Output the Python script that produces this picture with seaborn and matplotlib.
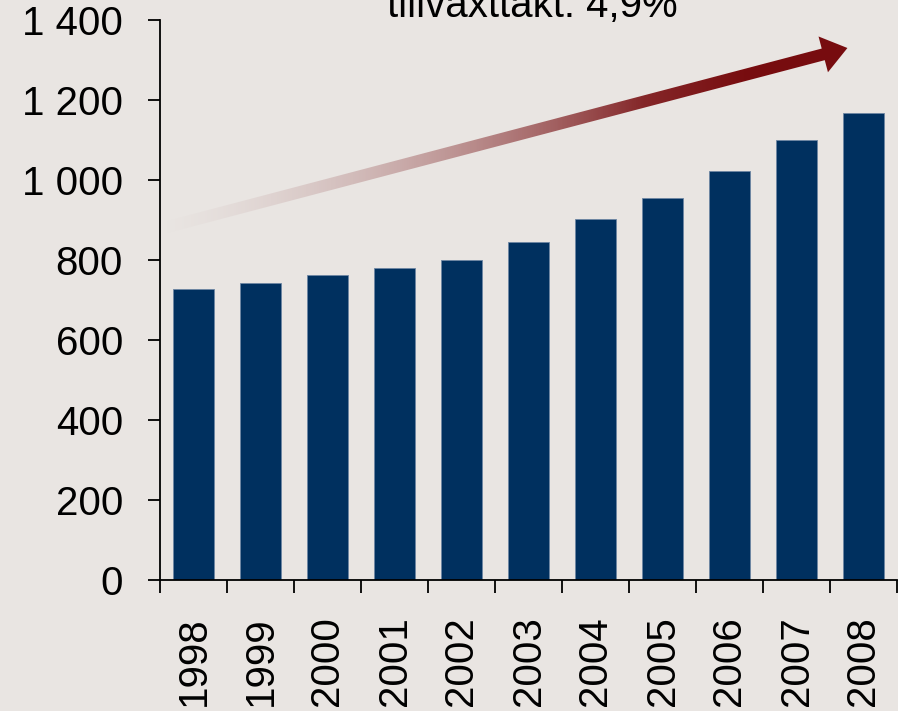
import numpy as np
import pandas as pd
import seaborn as sns
import matplotlib.pyplot as plt
from matplotlib.patches import Polygon

# data
years = ["1998", "1999", "2000", "2001", "2002", "2003", "2004", "2005", "2006", "2007", "2008"]
values = [727, 743, 763, 779, 799, 844, 903, 954, 1023, 1099, 1168]
y_ticks = [0, 200, 400, 600, 800, 1000, 1200, 1400]
y_tick_labels = ["0", "200", "400", "600", "800", "1 000", "1 200", "1 400"]
caption = "tillväxttakt: 4,9%"

# decorative trend arrow (data coords)
arrow_start = (-0.45, 880)
arrow_end = (9.76, 1330)

bg = "#e9e5e2"
bar_color = "#00305f"

sns.set_theme(style="ticks")
plt.rcParams["font.family"] = ["Liberation Sans", "DejaVu Sans"]

W, H = 898, 711
fig = plt.figure(figsize=(W / 100, H / 100), dpi=100, facecolor=bg)
ax = fig.add_axes([160 / W, 1 - 580 / H, 737 / W, 560 / H])
ax.set_facecolor("none")

df = pd.DataFrame({"year": years, "value": values})
sns.barplot(data=df, x="year", y="value", color=bar_color, saturation=1,
            width=0.62, edgecolor="#6d86a3", linewidth=0.6, ax=ax)

ax.set_xlim(-0.5, len(years) - 0.5)
ax.set_ylim(0, 1400)
ax.set_xlabel("")
ax.set_ylabel("")
ax.set_yticks(y_ticks)
ax.set_yticklabels(y_tick_labels)
ax.set_xticks(range(len(years)))
ax.set_xticklabels(years)
ax.set_xticks(np.arange(-0.5, len(years), 1.0), minor=True)

for side in ["top", "right"]:
    ax.spines[side].set_visible(False)
for side in ["left", "bottom"]:
    ax.spines[side].set_color("black")
    ax.spines[side].set_linewidth(1.3)

ax.tick_params(axis="y", which="major", length=8.6, width=1.3, color="black",
               labelsize=29, pad=18, labelcolor="black")
ax.tick_params(axis="x", which="major", length=0, labelsize=29, pad=26,
               labelrotation=90, labelcolor="black")
ax.tick_params(axis="x", which="minor", length=9, width=1.3, color="black")

# gradient arrow
p0 = ax.transData.transform(arrow_start)
p1 = ax.transData.transform(arrow_end)
d = p1 - p0
u = d / np.hypot(*d)
n = np.array([-u[1], u[0]])
shaft_w, head_w, head_l = 12, 37, 25
base = p1 - u * head_l
pts = [p0 + n * shaft_w / 2, base + n * shaft_w / 2, base + n * head_w / 2, p1,
       base - n * head_w / 2, base - n * shaft_w / 2, p0 - n * shaft_w / 2]

over = fig.add_axes([0, 0, 1, 1], zorder=5)
over.set_xlim(0, W)
over.set_ylim(0, H)
over.axis("off")
over.patch.set_alpha(0)
poly = Polygon(pts, closed=True, facecolor="none", edgecolor="none")
over.add_patch(poly)

xs = np.arange(W)
t = np.clip((xs - p0[0]) / (p1[0] - p0[0]), 0, 1)
c0 = np.array([0.76, 0.64, 0.64])
c1 = np.array([0.47, 0.05, 0.06])
rgba = np.zeros((1, W, 4))
rgba[0, :, :3] = c0 + (c1 - c0) * np.clip(t / 0.85, 0, 1)[:, None]
rgba[0, :, 3] = np.clip(t / 0.7, 0, 1) ** 1.1
im = over.imshow(rgba, extent=[0, W, 0, H], aspect="auto", interpolation="bilinear")
im.set_clip_path(poly)

fig.text(532 / W, 1 - 17 / H, caption, ha="center", va="baseline", fontsize=29, color="black")

fig.savefig("out.png", dpi=100, facecolor=bg)
